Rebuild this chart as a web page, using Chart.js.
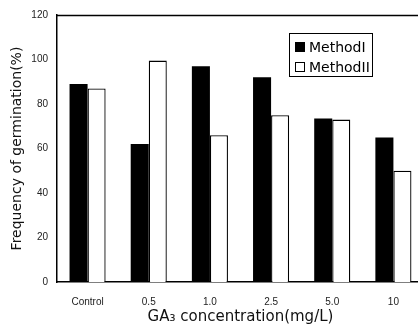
<!DOCTYPE html>
<html><head><meta charset="utf-8">
<script src="https://cdn.jsdelivr.net/npm/chart.js@4"></script>
<style>html,body{margin:0;padding:0;background:#fff;overflow:hidden;width:418px;height:330px}
#wrap{width:430px;height:330px;position:relative}</style>
</head><body><div id="wrap"><canvas id="c"></canvas></div>
<script>
const categories = ["Control","0.5","1.0","2.5","5.0","10"];
const method1 = [89,62,97,92,73.5,65];
const method2 = [87,99.5,66,75,73,50];
const seriesLabels = ["MethodI","MethodII"];
const yTicks = [0,20,40,60,80,100,120];

const frame = {
  id:'frame',
  afterDraw(chart){
    const {ctx, chartArea:a} = chart;
    ctx.save();
    ctx.strokeStyle='#000'; ctx.lineWidth=1.5;
    ctx.beginPath(); ctx.moveTo(a.left, a.top+0.5); ctx.lineTo(a.right, a.top+0.5); ctx.stroke();
    // legend box
    const x=289, y=33, w=83, h=43;
    ctx.lineWidth=1; ctx.strokeRect(x+0.5,y+0.5,w,h);
    ctx.font='14px "DejaVu Sans", sans-serif';
    ctx.textBaseline='middle'; ctx.fillStyle='#000';
    const ds = chart.data.datasets;
    [47,67].forEach((cy,i)=>{
      if(i===0){ctx.fillRect(x+6,cy-5,10,10);} else {ctx.strokeRect(x+6.5,cy-4.5,9,9);}
      ctx.fillText(ds[i].label, x+20, cy+1);
    });
    ctx.restore();
  }
};

new Chart(document.getElementById('c'),{
  type:'bar',
  data:{labels:categories,datasets:[
    {label:seriesLabels[0],data:method1,backgroundColor:'#000',borderColor:'#000',borderWidth:0},
    {label:seriesLabels[1],data:method2,backgroundColor:'#fff',borderColor:'#000',borderWidth:1.3,borderSkipped:'bottom'}
  ]},
  options:{
    responsive:true,maintainAspectRatio:false,animation:false,
    layout:{padding:{left:0,right:6,top:15,bottom:0}},
    datasets:{bar:{barPercentage:1,categoryPercentage:0.59}},
    plugins:{legend:{display:false},tooltip:{enabled:false}},
    scales:{
      x:{
        grid:{display:false},
        border:{display:true,color:'#000',width:1.5},
        ticks:{color:'#222',font:{family:'"Liberation Sans", Arial, sans-serif',size:10},padding:6},
        title:{display:true,text:'GA₃ concentration(mg/L)',color:'#111',font:{family:'"DejaVu Sans", sans-serif',size:15},padding:{top:2}},
        afterFit(s){s.height=48;}
      },
      y:{
        min:0,max:120,
        afterBuildTicks(s){s.ticks=yTicks.map(v=>({value:v}));},
        grid:{display:false,drawTicks:false},
        border:{display:true,color:'#000',width:1.5},
        ticks:{color:'#222',font:{family:'"Liberation Sans", Arial, sans-serif',size:10},padding:9},
        title:{display:true,text:'Frequency of germination(%)',color:'#111',font:{family:'"DejaVu Sans", sans-serif',size:14},padding:{top:9,bottom:0}},
        afterFit(s){s.width=57;}
      }
    }
  },
  plugins:[frame]
});
</script></body></html>
